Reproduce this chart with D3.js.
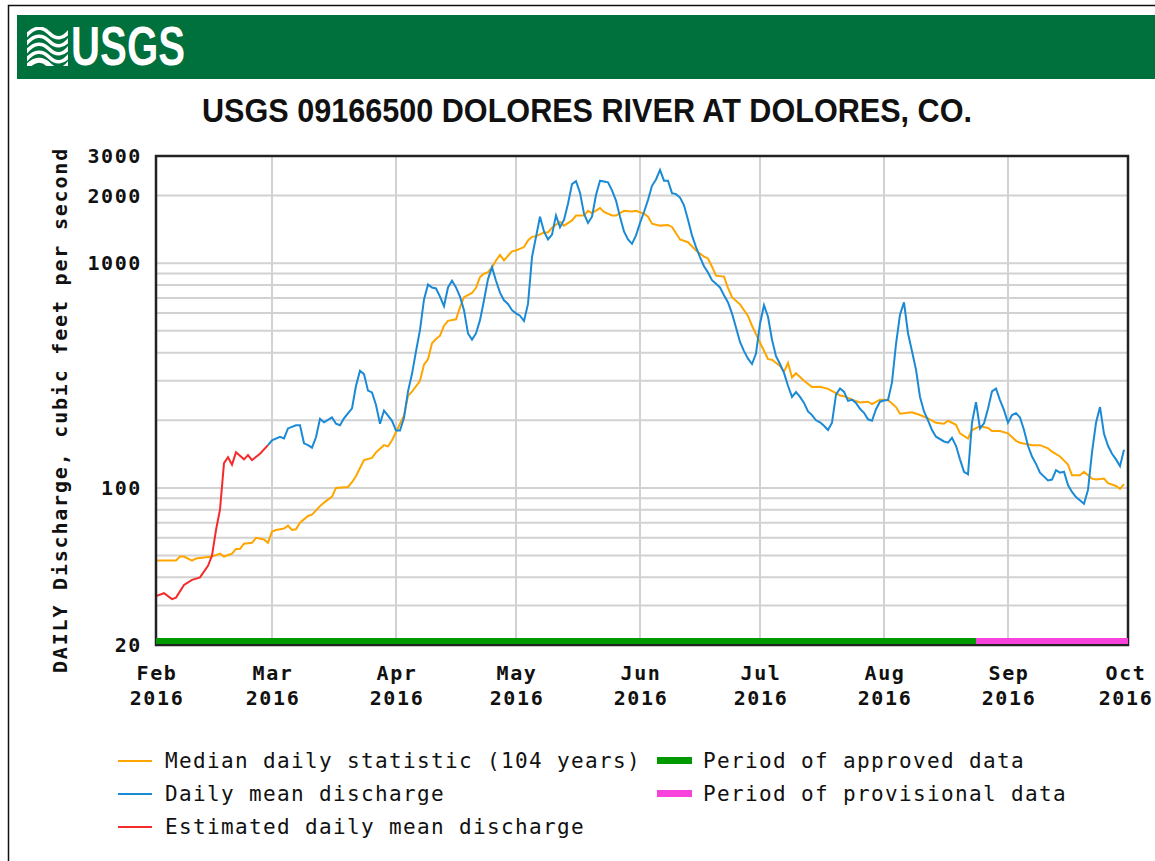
<!DOCTYPE html>
<html>
<head>
<meta charset="utf-8">
<script src="https://cdn.jsdelivr.net/npm/d3@7"></script>
<style>
  body { margin: 0; background: #fff; }
  .mono { font-family: "DejaVu Sans Mono", "Liberation Mono", monospace; }
</style>
</head>
<body>
<svg id="chart" width="1155" height="861"></svg>
<script>
// ---- data (cfs) ----
const YEAR = 2016;
const stationTitle = "USGS 09166500 DOLORES RIVER AT DOLORES, CO.";
const yAxisTitle = "DAILY Discharge, cubic feet per second";
const yTickValues = [20, 100, 1000, 2000, 3000];
const monthNames = ["Feb", "Mar", "Apr", "May", "Jun", "Jul", "Aug", "Sep", "Oct"];

// median daily statistic (104 years)
const medianDaily = [
  ["02-01", 47.5], ["02-06", 47.5], ["02-07", 49.5], ["02-08", 49.5], ["02-10", 47.5], ["02-11", 48.5],
  ["02-13", 49], ["02-15", 49.5], ["02-17", 51], ["02-18", 49.5], ["02-20", 51], ["02-21", 53.5],
  ["02-22", 53.5], ["02-23", 56.5], ["02-25", 57], ["02-26", 60], ["02-28", 59], ["02-29", 57],
  ["03-01", 64], ["03-02", 65], ["03-04", 66], ["03-05", 68], ["03-06", 65], ["03-07", 65.5],
  ["03-08", 70], ["03-10", 75], ["03-11", 76], ["03-13", 83], ["03-14", 86], ["03-16", 91.5],
  ["03-17", 100], ["03-20", 101], ["03-21", 106], ["03-22", 113], ["03-24", 133], ["03-26", 136],
  ["03-27", 144], ["03-29", 155], ["03-30", 153], ["03-31", 163], ["04-01", 177], ["04-03", 210],
  ["04-04", 257], ["04-05", 268], ["04-07", 300], ["04-08", 354], ["04-09", 374], ["04-10", 440],
  ["04-11", 460], ["04-12", 476], ["04-13", 527], ["04-14", 554], ["04-16", 563], ["04-17", 636],
  ["04-18", 706], ["04-20", 737], ["04-21", 777], ["04-22", 868], ["04-23", 898], ["04-24", 913],
  ["04-25", 958], ["04-26", 1029], ["04-27", 1089], ["04-28", 1029], ["04-30", 1130], ["05-01", 1140],
  ["05-03", 1180], ["05-04", 1262], ["05-05", 1310], ["05-06", 1320], ["05-08", 1370], ["05-09", 1370],
  ["05-10", 1440], ["05-12", 1530], ["05-13", 1470], ["05-15", 1550], ["05-16", 1630], ["05-18", 1630],
  ["05-19", 1710], ["05-20", 1670], ["05-22", 1760], ["05-23", 1690], ["05-25", 1630], ["05-26", 1630],
  ["05-28", 1710], ["05-30", 1700], ["05-31", 1710], ["06-02", 1660], ["06-03", 1610], ["06-04", 1500],
  ["06-06", 1470], ["06-08", 1480], ["06-09", 1450], ["06-11", 1275], ["06-13", 1240], ["06-15", 1140],
  ["06-17", 1070], ["06-18", 1050], ["06-19", 965], ["06-20", 880], ["06-22", 872], ["06-23", 777],
  ["06-24", 706], ["06-26", 656], ["06-28", 583], ["06-29", 527], ["07-01", 444], ["07-02", 408],
  ["07-03", 374], ["07-04", 372], ["07-06", 349], ["07-07", 329], ["07-08", 360], ["07-09", 310],
  ["07-10", 324], ["07-12", 300], ["07-14", 281], ["07-16", 282], ["07-18", 276], ["07-20", 264],
  ["07-21", 258], ["07-22", 256], ["07-24", 247], ["07-26", 240], ["07-28", 242], ["07-29", 236],
  ["07-31", 247], ["08-02", 246], ["08-04", 229], ["08-05", 214], ["08-08", 217], ["08-10", 211],
  ["08-12", 204], ["08-14", 195], ["08-16", 193], ["08-17", 199], ["08-19", 191], ["08-20", 175],
  ["08-22", 166], ["08-23", 181], ["08-25", 188], ["08-27", 185], ["08-28", 179], ["08-30", 179],
  ["09-01", 175], ["09-03", 162], ["09-04", 159], ["09-07", 155], ["09-09", 155], ["09-11", 150],
  ["09-12", 145], ["09-14", 138], ["09-16", 127], ["09-17", 114], ["09-19", 114], ["09-20", 118],
  ["09-22", 110], ["09-23", 109], ["09-25", 110], ["09-26", 105], ["09-28", 102], ["09-29", 99],
  ["09-30", 104]
];

// daily mean discharge (approved + provisional)
const dailyMean = [
  ["02-29", 155], ["03-01", 163], ["03-03", 169], ["03-04", 166], ["03-05", 184], ["03-07", 190],
  ["03-08", 190], ["03-09", 158], ["03-10", 155], ["03-11", 151], ["03-12", 168], ["03-13", 203],
  ["03-14", 196], ["03-16", 206], ["03-17", 193], ["03-18", 190], ["03-19", 204], ["03-21", 226],
  ["03-22", 285], ["03-23", 332], ["03-24", 321], ["03-25", 271], ["03-26", 266], ["03-27", 234],
  ["03-28", 193], ["03-29", 221], ["03-30", 210], ["03-31", 199], ["04-01", 180], ["04-02", 180],
  ["04-03", 205], ["04-04", 269], ["04-05", 322], ["04-06", 405], ["04-07", 505], ["04-08", 690],
  ["04-09", 805], ["04-10", 780], ["04-11", 772], ["04-12", 710], ["04-13", 644], ["04-14", 780],
  ["04-15", 835], ["04-16", 780], ["04-17", 710], ["04-18", 618], ["04-19", 487], ["04-20", 457],
  ["04-21", 487], ["04-22", 558], ["04-23", 684], ["04-24", 850], ["04-25", 960], ["04-26", 835],
  ["04-27", 740], ["04-28", 684], ["04-29", 659], ["04-30", 618], ["05-01", 598], ["05-02", 584],
  ["05-03", 553], ["05-04", 659], ["05-05", 1065], ["05-06", 1310], ["05-07", 1610], ["05-08", 1385],
  ["05-09", 1275], ["05-10", 1340], ["05-11", 1630], ["05-12", 1445], ["05-13", 1560], ["05-14", 1840],
  ["05-15", 2250], ["05-16", 2320], ["05-17", 2060], ["05-18", 1660], ["05-19", 1510], ["05-20", 1610],
  ["05-21", 2010], ["05-22", 2330], ["05-23", 2310], ["05-24", 2290], ["05-25", 2110], ["05-26", 1900],
  ["05-27", 1610], ["05-28", 1385], ["05-29", 1275], ["05-30", 1220], ["05-31", 1330], ["06-01", 1510],
  ["06-02", 1690], ["06-03", 1910], ["06-04", 2210], ["06-05", 2360], ["06-06", 2600], ["06-07", 2330],
  ["06-08", 2330], ["06-09", 2050], ["06-10", 2030], ["06-11", 1960], ["06-12", 1810], ["06-13", 1560],
  ["06-14", 1330], ["06-15", 1180], ["06-16", 1065], ["06-17", 970], ["06-18", 910], ["06-19", 840],
  ["06-20", 810], ["06-21", 780], ["06-22", 720], ["06-23", 669], ["06-24", 598], ["06-25", 517],
  ["06-26", 446], ["06-27", 406], ["06-28", 376], ["06-29", 356], ["06-30", 396], ["07-01", 538],
  ["07-02", 650], ["07-03", 578], ["07-04", 457], ["07-05", 386], ["07-06", 356], ["07-07", 325],
  ["07-08", 285], ["07-09", 254], ["07-10", 267], ["07-11", 254], ["07-12", 239], ["07-13", 219],
  ["07-14", 211], ["07-15", 200], ["07-16", 196], ["07-17", 189], ["07-18", 181], ["07-19", 195],
  ["07-20", 260], ["07-21", 277], ["07-22", 268], ["07-23", 244], ["07-24", 247], ["07-25", 239],
  ["07-26", 225], ["07-27", 216], ["07-28", 202], ["07-29", 199], ["07-30", 224], ["07-31", 242],
  ["08-01", 245], ["08-02", 246], ["08-03", 295], ["08-04", 437], ["08-05", 590], ["08-06", 670],
  ["08-07", 488], ["08-08", 406], ["08-09", 336], ["08-10", 254], ["08-11", 219], ["08-12", 200],
  ["08-13", 181], ["08-14", 169], ["08-16", 161], ["08-17", 159], ["08-18", 167], ["08-19", 154],
  ["08-20", 134], ["08-21", 118], ["08-22", 115], ["08-23", 195], ["08-24", 241], ["08-25", 184],
  ["08-26", 194], ["08-27", 225], ["08-28", 269], ["08-29", 277], ["08-30", 246], ["08-31", 222],
  ["09-01", 195], ["09-02", 211], ["09-03", 215], ["09-04", 206], ["09-05", 181], ["09-06", 154],
  ["09-07", 138], ["09-08", 128], ["09-09", 117], ["09-11", 108], ["09-12", 109], ["09-13", 120],
  ["09-14", 117], ["09-15", 118], ["09-16", 103], ["09-17", 96], ["09-18", 91], ["09-20", 85],
  ["09-21", 98], ["09-22", 144], ["09-23", 195], ["09-24", 229], ["09-25", 174], ["09-26", 154],
  ["09-27", 142], ["09-28", 134], ["09-29", 125], ["09-30", 148]
];

// estimated daily mean discharge (ice affected, February)
const estimatedMean = [
  ["02-01", 33], ["02-03", 34], ["02-05", 32], ["02-06", 32.5], ["02-08", 37], ["02-10", 39],
  ["02-12", 40], ["02-14", 45], ["02-15", 50], ["02-16", 65], ["02-17", 80], ["02-18", 129],
  ["02-19", 137], ["02-20", 127], ["02-21", 144], ["02-23", 134], ["02-24", 140], ["02-25", 133],
  ["02-27", 142], ["02-29", 155]
];

const approvedPeriod = ["02-01", "08-24"];
const provisionalPeriod = ["08-24", "10-01"];

const legendLines = [
  { label: "Median daily statistic (104 years)", color: "#ffa500" },
  { label: "Daily mean discharge", color: "#1a8ad6" },
  { label: "Estimated daily mean discharge", color: "#f52a2a" }
];
const legendBars = [
  { label: "Period of approved data", color: "#009a00" },
  { label: "Period of provisional data", color: "#f742dc" }
];

// ---- layout ----
const LEFT = 156, RIGHT = 1128, TOP = 156, BOTTOM = 645;
const parse = d3.timeParse("%Y-%m-%d");
const toDate = s => parse(YEAR + "-" + s);

var svg = d3.select("#chart");

var x = d3.scaleTime()
  .domain([toDate("02-01"), toDate("10-01")])
  .range([LEFT, RIGHT]);
var y = d3.scaleLog()
  .domain([20, 3000])
  .range([BOTTOM, TOP]);

svg.append("rect").attr("width", 1155).attr("height", 861).attr("fill", "#fff");
// outer page frame
svg.append("rect")
  .attr("x", 8.5).attr("y", 5.5).attr("width", 1200).attr("height", 900)
  .attr("fill", "none").attr("stroke", "#111").attr("stroke-width", 1.5);

// ---- header band with logo ----
var header = svg.append("g");
header.append("rect")
  .attr("x", 17).attr("y", 15).attr("width", 1145).attr("height", 64)
  .attr("fill", "#00703c");

var logo = header.append("g").attr("transform", "translate(27,27)");
logo.append("clipPath").attr("id", "logo-clip")
  .append("rect").attr("width", 41).attr("height", 39);
var waves = logo.append("g").attr("clip-path", "url(#logo-clip)");
[4, 12, 20, 28, 36].forEach(function(off, k) {
  waves.append("path")
    .attr("d", "M -2 " + (off + 6) + " C 8 " + (off - 6) + ", 16 " + (off - 4) + ", 22 " + (off + 2)
      + " S 36 " + (off + 10) + ", 44 " + (off - 2))
    .attr("fill", "none").attr("stroke", "#fff").attr("stroke-width", k == 4 ? 5 : 3.6);
});
header.append("text")
  .attr("x", 71).attr("y", 65)
  .attr("font-family", "'Liberation Sans Narrow', 'Liberation Sans', Arial, sans-serif")
  .attr("font-weight", "bold").attr("font-size", 55)
  .attr("textLength", 114).attr("lengthAdjust", "spacingAndGlyphs")
  .attr("fill", "#fff")
  .text("USGS");

// ---- title ----
svg.append("text")
  .attr("x", 202).attr("y", 122)
  .attr("font-family", "'Liberation Sans Narrow', 'Liberation Sans', Arial, sans-serif")
  .attr("font-weight", "bold").attr("font-size", 33)
  .attr("textLength", 770).attr("lengthAdjust", "spacingAndGlyphs")
  .attr("fill", "#111")
  .text(stationTitle);

// ---- grid ----
var months = d3.timeMonth.range(toDate("02-01"), d3.timeDay.offset(toDate("10-01"), 1));
var grid = svg.append("g").attr("stroke", "#d2d2d2").attr("stroke-width", 2);
grid.selectAll(".hgrid")
  .data(y.ticks().filter(v => v > 20 && v < 3000))
  .enter().append("line")
  .attr("class", "hgrid")
  .attr("x1", LEFT).attr("x2", RIGHT)
  .attr("y1", d => y(d)).attr("y2", d => y(d));
grid.selectAll(".vgrid")
  .data(months.slice(1, -1))
  .enter().append("line")
  .attr("class", "vgrid")
  .attr("y1", TOP).attr("y2", BOTTOM)
  .attr("x1", d => x(d)).attr("x2", d => x(d));

// ---- series ----
var line = d3.line()
  .x(d => x(toDate(d[0])))
  .y(d => y(d[1]));

function drawSeries(data, color) {
  svg.append("path")
    .datum(data)
    .attr("d", line)
    .attr("fill", "none")
    .attr("stroke", color)
    .attr("stroke-width", 2)
    .attr("stroke-linejoin", "miter");
}
drawSeries(medianDaily, legendLines[0].color);
drawSeries(dailyMean, legendLines[1].color);
drawSeries(estimatedMean, legendLines[2].color);

// ---- plot frame ----
svg.append("rect")
  .attr("x", LEFT).attr("y", TOP)
  .attr("width", RIGHT - LEFT).attr("height", BOTTOM - TOP)
  .attr("fill", "none").attr("stroke", "#222").attr("stroke-width", 2.5);

// approval status bars along the bottom
[[approvedPeriod, legendBars[0].color], [provisionalPeriod, legendBars[1].color]].forEach(function(p) {
  svg.append("rect")
    .attr("x", x(toDate(p[0][0])))
    .attr("width", x(toDate(p[0][1])) - x(toDate(p[0][0])))
    .attr("y", BOTTOM - 7).attr("height", 6)
    .attr("fill", p[1]);
});

// ---- axes labels ----
var tickFont = { size: 20, spacing: 1.6 };
svg.append("g").selectAll("text")
  .data(yTickValues)
  .enter().append("text")
  .attr("class", "mono")
  .attr("x", 142).attr("y", d => y(d) + 7)
  .attr("text-anchor", "end")
  .attr("font-weight", "bold").attr("font-size", tickFont.size)
  .attr("letter-spacing", tickFont.spacing)
  .attr("fill", "#111")
  .text(d => d);

// last label sits against the page edge, nudge it in a little
var labelX = (d, i) => x(d) + (i == months.length - 1 ? -2 : 1);
var xl = svg.append("g").selectAll("text")
  .data(months)
  .enter().append("text")
  .attr("class", "mono")
  .attr("text-anchor", "middle")
  .attr("font-weight", "bold").attr("font-size", tickFont.size)
  .attr("letter-spacing", tickFont.spacing)
  .attr("fill", "#111");
xl.append("tspan").attr("x", labelX).attr("y", 680).text((d, i) => monthNames[i]);
xl.append("tspan").attr("x", labelX).attr("y", 705).text(d => d.getFullYear());

svg.append("text")
  .attr("class", "mono")
  .attr("transform", "translate(67,410) rotate(-90)")
  .attr("text-anchor", "middle")
  .attr("font-weight", "bold").attr("font-size", tickFont.size)
  .attr("letter-spacing", 1.8)
  .attr("fill", "#111")
  .text(yAxisTitle);

// ---- legend ----
var legend = svg.append("g");
legendLines.forEach(function(item, i) {
  var ly = 761 + i * 33;
  legend.append("line")
    .attr("x1", 118).attr("x2", 152).attr("y1", ly).attr("y2", ly)
    .attr("stroke", item.color).attr("stroke-width", 2);
  legend.append("text")
    .attr("class", "mono")
    .attr("x", 165).attr("y", ly + 7)
    .attr("font-size", 21).attr("letter-spacing", 1.36)
    .attr("fill", "#111")
    .text(item.label);
});
legendBars.forEach(function(item, i) {
  var ly = 761 + i * 33;
  legend.append("rect")
    .attr("x", 657).attr("y", ly - 4).attr("width", 35).attr("height", 7)
    .attr("fill", item.color);
  legend.append("text")
    .attr("class", "mono")
    .attr("x", 703).attr("y", ly + 7)
    .attr("font-size", 21).attr("letter-spacing", 1.36)
    .attr("fill", "#111")
    .text(item.label);
});
</script>
</body>
</html>
